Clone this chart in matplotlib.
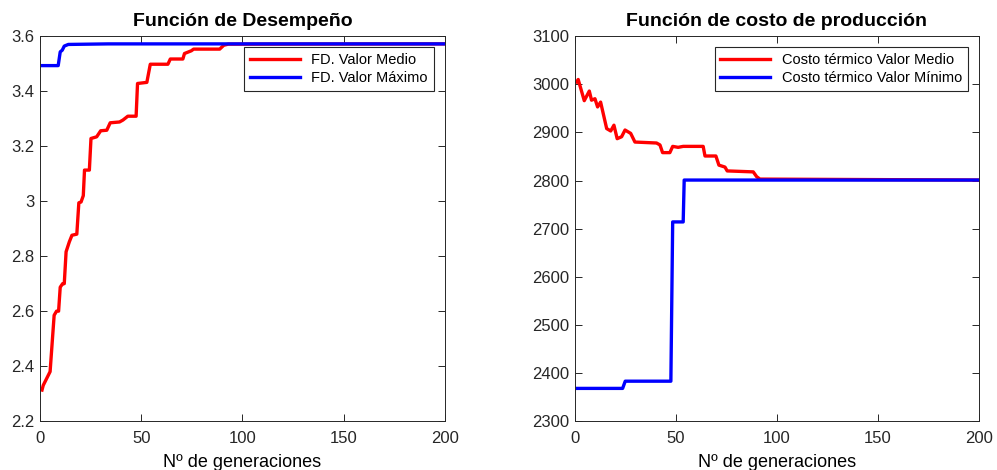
import matplotlib
matplotlib.use('Agg')
import matplotlib.pyplot as plt

plt.rcParams['font.family'] = ['Liberation Sans', 'DejaVu Sans']

# Función de Desempeño - mean value
fd_medio_x = [1, 1.6, 5, 7, 8.2, 9.2, 10, 11.2, 12, 12.9, 14.5, 15.8, 18.2, 19.2, 20.3, 21.4,
              22, 24.4, 25.2, 28, 30, 33, 34.7, 39.3, 41, 43.4, 47.5, 48.2, 52.8, 54.5,
              63.2, 64.4, 70.6, 71.4, 74.8, 75.9, 88.8, 90.8, 93, 200]
fd_medio_y = [2.313, 2.33, 2.38, 2.585, 2.60, 2.60, 2.687, 2.70, 2.70, 2.816, 2.852, 2.876,
              2.88, 2.994, 2.997, 3.02, 3.113, 3.113, 3.228, 3.234, 3.256, 3.258, 3.285,
              3.288, 3.295, 3.309, 3.309, 3.428, 3.432, 3.498, 3.498, 3.517, 3.517, 3.537,
              3.547, 3.553, 3.553, 3.567, 3.571, 3.572]
# Función de Desempeño - max value
fd_max_x = [1, 9, 10, 11, 12, 14, 33.7, 200]
fd_max_y = [3.493, 3.493, 3.543, 3.549, 3.564, 3.570, 3.572, 3.572]

# Costo térmico - mean value
ct_medio_x = [0.8, 1.6, 4.6, 7.1, 8.2, 9.9, 11.2, 12.7, 15.7, 17.7, 19.3, 20.9, 23.1, 24.8,
              27.6, 29.7, 40.4, 42.1, 43.4, 47, 48.4, 51.1, 53.6, 63.5, 64.4, 69.8, 71.3,
              74.3, 75.4, 88.3, 90, 91.6, 200]
ct_medio_y = [3005, 3010, 2966, 2986, 2967, 2970, 2953, 2963, 2908, 2903, 2915, 2887, 2891,
              2905, 2898, 2880, 2878, 2874, 2858, 2858, 2871, 2869, 2871, 2871, 2851, 2851,
              2832, 2828, 2820, 2818, 2808, 2803, 2801]
# Costo térmico - min value
ct_min_x = [0.8, 23.6, 24.9, 47.5, 48.4, 53.6, 54.1, 200]
ct_min_y = [2368, 2368, 2383, 2383, 2714, 2714, 2801, 2801]

fig = plt.figure(figsize=(9.97, 4.70), dpi=100)
ax1 = fig.add_axes([0.0401, 0.104, 0.406, 0.819])
ax2 = fig.add_axes([0.5767, 0.104, 0.405, 0.819])

ax1.plot(fd_medio_x, fd_medio_y, color='red', lw=2.4, label='FD. Valor Medio')
ax1.plot(fd_max_x, fd_max_y, color='blue', lw=2.4, label='FD. Valor Máximo')
ax1.set_xlim(0, 200)
ax1.set_ylim(2.2, 3.6)
ax1.set_yticks([2.2, 2.4, 2.6, 2.8, 3.0, 3.2, 3.4, 3.6])
ax1.set_yticklabels(['2.2', '2.4', '2.6', '2.8', '3', '3.2', '3.4', '3.6'])
ax1.set_title('Función de Desempeño', fontsize=14, fontweight='bold', pad=7)

ax2.plot(ct_medio_x, ct_medio_y, color='red', lw=2.4, label='Costo térmico Valor Medio')
ax2.plot(ct_min_x, ct_min_y, color='blue', lw=2.4, label='Costo térmico Valor Mínimo')
ax2.set_xlim(0, 200)
ax2.set_ylim(2300, 3100)
ax2.set_yticks(range(2300, 3101, 100))
ax2.set_title('Función de costo de producción', fontsize=14, fontweight='bold', pad=7)

for ax in (ax1, ax2):
    ax.set_xticks([0, 50, 100, 150, 200])
    ax.set_xlabel('Nº de generaciones', fontsize=13, labelpad=6)
    ax.tick_params(direction='in', top=True, right=True, labelsize=12, colors='#262626',
                   length=5, width=0.7, pad=7)
    ax.tick_params(axis='y', pad=4)
    for s in ax.spines.values():
        s.set_color('#262626')
        s.set_linewidth(0.7)
    leg = ax.legend(loc='upper right', fontsize=10.5, fancybox=False, framealpha=1,
                    edgecolor='#262626', handlelength=3.4, borderaxespad=0.75,
                    borderpad=0.4, labelspacing=0.3, handletextpad=0.8)
    leg.get_frame().set_linewidth(0.8)

fig.savefig('out.png', dpi=100)
